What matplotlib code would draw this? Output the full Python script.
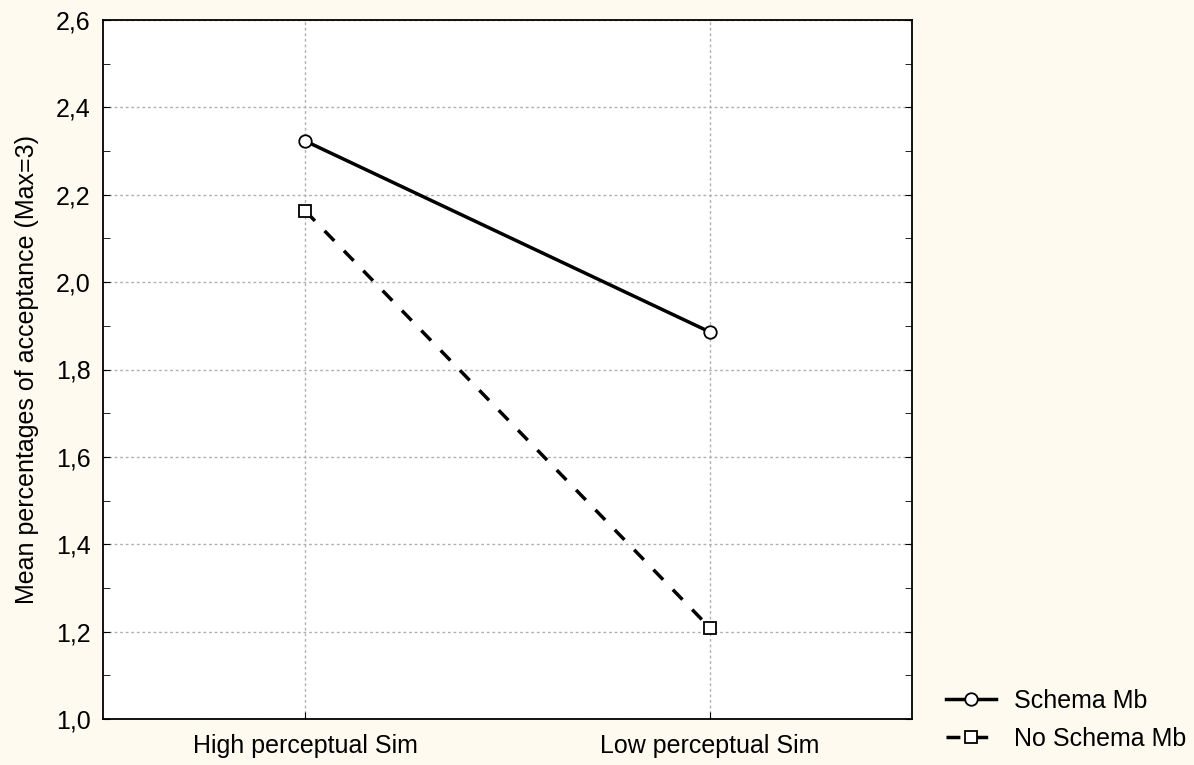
import matplotlib.pyplot as plt
from matplotlib.ticker import MultipleLocator, FuncFormatter

categories = ['High perceptual Sim', 'Low perceptual Sim']
schema_mb = [2.323, 1.886]
no_schema_mb = [2.163, 1.209]
y_ticks = [1.0, 1.2, 1.4, 1.6, 1.8, 2.0, 2.2, 2.4, 2.6]

plt.rcParams['font.family'] = ['Liberation Sans', 'DejaVu Sans']
plt.rcParams['font.size'] = 18

bg = '#fefaf0'
fig = plt.figure(figsize=(11.94, 7.65), dpi=100, facecolor=bg)
ax = fig.add_axes([103 / 1194, 1 - 719 / 765, 809 / 1194, 699 / 765])
ax.set_facecolor('white')

x = list(range(len(categories)))
ax.plot(x, schema_mb, color='black', lw=2.5, marker='o', ms=9,
        mfc='white', mec='black', mew=1.3, label='Schema Mb', zorder=3)
ax.plot(x, no_schema_mb, color='black', lw=2.5, ls=(0, (4, 4)), marker='s', ms=9,
        mfc='white', mec='black', mew=1.3, label='No Schema Mb', zorder=3)

ax.set_xlim(-0.5, 1.5)
ax.set_ylim(1.0, 2.6)
ax.set_xticks(x)
ax.set_xticklabels(categories)
ax.set_yticks(y_ticks)
ax.yaxis.set_minor_locator(MultipleLocator(0.1))
ax.yaxis.set_major_formatter(FuncFormatter(lambda v, p: f'{v:.1f}'.replace('.', ',')))
ax.tick_params(which='both', direction='in', right=True, top=False, color='black')
ax.tick_params(which='major', length=5)
ax.tick_params(which='minor', length=5)
ax.tick_params(axis='x', pad=11)
ax.tick_params(axis='y', pad=9)
ax.grid(True, which='major', color='#b0b0b0', ls=(0, (2, 2)), lw=1)
ax.set_axisbelow(True)
for s in ax.spines.values():
    s.set_linewidth(1.3)

ax.set_ylabel('Mean percentages of acceptance (Max=3)', labelpad=12)

ax.legend(loc='lower left', bbox_to_anchor=(1.03, -0.06), frameon=False,
          handlelength=2.0, borderaxespad=0, handletextpad=0.7, labelspacing=0.55)

fig.savefig('out.png', dpi=100, facecolor=bg)
